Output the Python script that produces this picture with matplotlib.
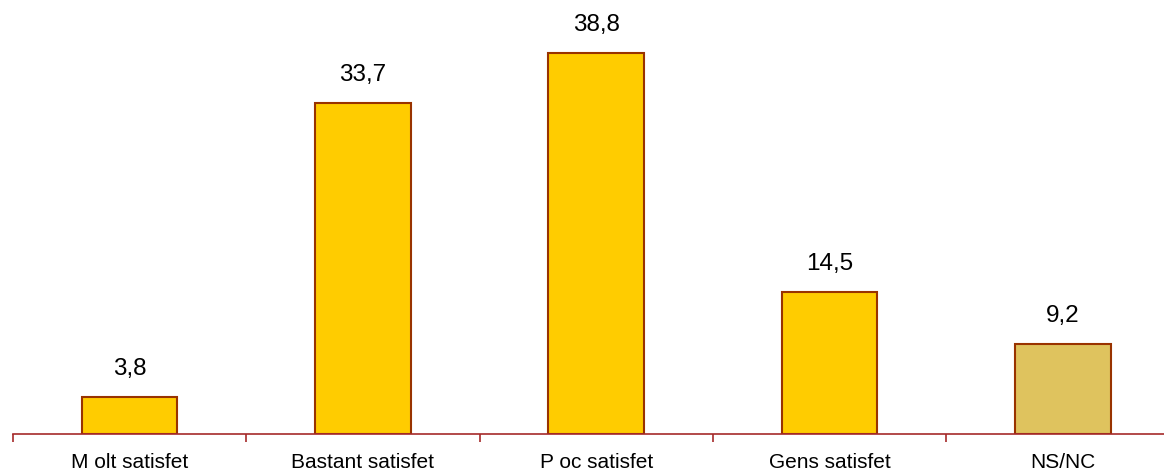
import numpy as np
from matplotlib import pyplot as plt

plt.rcParams['font.family'] = ['Liberation Sans', 'DejaVu Sans']

categories = ['M olt satisfet', 'Bastant satisfet', 'P oc satisfet', 'Gens satisfet', 'NS/NC']
values = [3.8, 33.7, 38.8, 14.5, 9.2]
value_labels = ['3,8', '33,7', '38,8', '14,5', '9,2']

fig = plt.figure(figsize=(11.64, 4.73), dpi=100)
ax = fig.add_axes([13 / 1164, 39 / 473, 1 - 13 / 1164, 1 - 39 / 473])

x = np.arange(len(categories))
colors = ['#FFCC00'] * 4 + ['#DFC35E']
ax.bar(x, values, width=0.41, color=colors, edgecolor='#993300', linewidth=1.5, zorder=2)

for xi, v, lab in zip(x, values, value_labels):
    ax.text(xi, v + 2.25, lab, ha='center', va='baseline', fontsize=17.5, color='black')

# category labels below the axis
for xi, cat in zip(x, categories):
    ax.annotate(cat, xy=(xi, 0), xycoords=('data', 'axes fraction'),
                xytext=(0, -24.5), textcoords='offset points',
                ha='center', va='baseline', fontsize=15, color='black',
                annotation_clip=False)

for s in ['top', 'right', 'left']:
    ax.spines[s].set_visible(False)
ax.spines['bottom'].set_color('#A52A2A')
ax.spines['bottom'].set_linewidth(1.2)
ax.set_yticks([])

ax.set_xticks(np.arange(len(categories) + 1) - 0.5)
ax.set_xticklabels([])
ax.tick_params(axis='x', which='major', length=6, color='#A52A2A', width=1.2)

# limits after ticks so the last (off-canvas) tick doesn't stretch the view
ax.set_xlim(-0.5, -0.5 + 1151 / 233.3)
ax.set_ylim(0, 44.2)

fig.savefig('out.png', dpi=100)
